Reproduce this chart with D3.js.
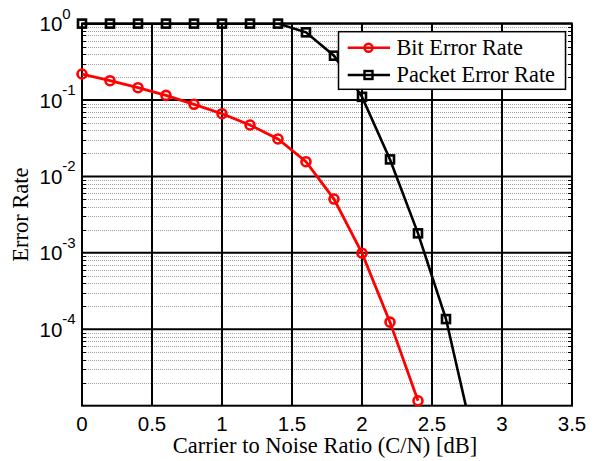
<!DOCTYPE html>
<html>
<head>
<meta charset="utf-8">
<script src="https://cdn.jsdelivr.net/npm/d3@7"></script>
<style>
  html, body { margin: 0; padding: 0; background: #fff; }
  svg { display: block; }
</style>
</head>
<body>
<svg id="chart" width="596" height="461"></svg>
<script>
// ---- data ----
const cnr = [0, 0.2, 0.4, 0.6, 0.8, 1.0, 1.2, 1.4, 1.6, 1.8, 2.0, 2.2, 2.4, 2.6, 2.8];
const berX = [0, 0.2, 0.4, 0.6, 0.8, 1.0, 1.2, 1.4, 1.6, 1.8, 2.0, 2.2, 2.4];
const berValues = [0.219, 0.179, 0.145, 0.115, 0.0879, 0.0662, 0.0471, 0.0309, 0.0156, 0.00506, 0.00099, 1.24e-4, 1.16e-5];
const perValues = [1, 1, 1, 1, 1, 1, 1, 1, 0.769, 0.38, 0.110, 0.0167, 0.0018, 1.36e-4, 3.4e-6];
const xTicks = [0, 0.5, 1, 1.5, 2, 2.5, 3, 3.5];
const xTickLabels = ["0", "0.5", "1", "1.5", "2", "2.5", "3", "3.5"];
const yTicks = [1, 1e-1, 1e-2, 1e-3, 1e-4];
const yTickExponents = ["0", "-1", "-2", "-3", "-4"];
const seriesNames = ["Bit Error Rate", "Packet Error Rate"];
const seriesColors = ["#ff0000", "#000000"];
const xLabel = "Carrier to Noise Ratio (C/N) [dB]";
const yLabel = "Error Rate";

// ---- layout ----
const L = 82, R = 572, T = 23.6, B = 405.7;
const svg = d3.select("#chart");
const x = d3.scaleLinear().domain([0, 3.5]).range([L, R]);
const y = d3.scaleLog().domain([1e-5, 1]).range([B, T]);
const sans = "'Liberation Sans', Arial, sans-serif";
const serif = "'Liberation Serif', 'Times New Roman', serif";

// clip
svg.append("defs").append("clipPath").attr("id", "plotclip")
  .append("rect").attr("x", L).attr("y", T).attr("width", R - L).attr("height", B - T);

// minor grid
const minorVals = [];
for (let e = -5; e < 0; e++) for (let m = 2; m <= 9; m++) minorVals.push(m * Math.pow(10, e));
const grid = svg.append("g");
grid.selectAll("line.minor").data(minorVals).join("line")
  .attr("class", "minor")
  .attr("x1", L).attr("x2", R)
  .attr("y1", d => Math.round(y(d)) + 0.5).attr("y2", d => Math.round(y(d)) + 0.5)
  .attr("stroke", "#a0a0a0").attr("stroke-width", 1).attr("stroke-dasharray", "1,1");

// minor ticks on left/right
grid.selectAll("line.mtl").data(minorVals).join("line")
  .attr("x1", L).attr("x2", L + 4)
  .attr("y1", d => Math.round(y(d)) + 0.5).attr("y2", d => Math.round(y(d)) + 0.5)
  .attr("stroke", "#000").attr("stroke-width", 1);
grid.selectAll("line.mtr").data(minorVals).join("line")
  .attr("x1", R - 4).attr("x2", R)
  .attr("y1", d => Math.round(y(d)) + 0.5).attr("y2", d => Math.round(y(d)) + 0.5)
  .attr("stroke", "#000").attr("stroke-width", 1);

// major grid
grid.selectAll("line.majy").data(yTicks).join("line")
  .attr("x1", L).attr("x2", R)
  .attr("y1", d => y(d)).attr("y2", d => y(d))
  .attr("stroke", "#000").attr("stroke-width", 2);
grid.selectAll("line.majx").data(xTicks).join("line")
  .attr("x1", d => x(d)).attr("x2", d => x(d))
  .attr("y1", T).attr("y2", B)
  .attr("stroke", "#000").attr("stroke-width", 2);

// axes box
svg.append("rect").attr("x", L).attr("y", T).attr("width", R - L).attr("height", B - T)
  .attr("fill", "none").attr("stroke", "#000").attr("stroke-width", 2);

// x tick labels
svg.append("g").selectAll("text").data(xTicks).join("text")
  .attr("x", d => x(d)).attr("y", B + 25)
  .attr("text-anchor", "middle")
  .attr("font-family", sans).attr("font-size", 20.5)
  .text((d, i) => xTickLabels[i]);

// y tick labels
const yl = svg.append("g").selectAll("g").data(yTicks).join("g");
yl.append("text")
  .attr("x", 39.5).attr("y", d => y(d) + 7.5)
  .attr("font-family", sans).attr("font-size", 20.5)
  .text("10")
  .append("tspan").attr("font-size", 15).attr("dy", -12.5)
  .text((d, i) => yTickExponents[i]);

// axis labels
svg.append("text").attr("x", 325).attr("y", 453)
  .attr("text-anchor", "middle").attr("font-family", serif).attr("font-size", 22.5)
  .text(xLabel);
svg.append("text")
  .attr("transform", `translate(28,${(T + B) / 2}) rotate(-90)`)
  .attr("text-anchor", "middle").attr("font-family", serif).attr("font-size", 22.5)
  .text(yLabel);

// series
const berData = berX.map((v, i) => [v, berValues[i]]);
const perData = cnr.map((v, i) => [v, perValues[i]]);
const line = d3.line().x(d => x(d[0])).y(d => y(d[1]));
const inDomain = d => d[1] >= 1e-5 && d[1] <= 1;

const plot = svg.append("g");
plot.append("path").datum(perData).attr("d", line)
  .attr("clip-path", "url(#plotclip)")
  .attr("fill", "none").attr("stroke", seriesColors[1]).attr("stroke-width", 2.6);
plot.append("path").datum(berData).attr("d", line)
  .attr("clip-path", "url(#plotclip)")
  .attr("fill", "none").attr("stroke", seriesColors[0]).attr("stroke-width", 2.8);

plot.selectAll("rect.per").data(perData.filter(inDomain)).join("rect")
  .attr("x", d => x(d[0]) - 4).attr("y", d => y(d[1]) - 4)
  .attr("width", 8).attr("height", 8)
  .attr("fill", "none").attr("stroke", seriesColors[1]).attr("stroke-width", 2.6);
plot.selectAll("circle.ber").data(berData.filter(inDomain)).join("circle")
  .attr("cx", d => x(d[0])).attr("cy", d => y(d[1])).attr("r", 4.5)
  .attr("fill", "none").attr("stroke", seriesColors[0]).attr("stroke-width", 2.6);

// legend
const lg = svg.append("g");
lg.append("rect").attr("x", 338.5).attr("y", 31.7).attr("width", 227).attr("height", 57.6)
  .attr("fill", "#fff").attr("stroke", "#000").attr("stroke-width", 1.5);
const rowsY = [47.7, 75];
seriesNames.forEach((name, i) => {
  const yy = rowsY[i];
  lg.append("line").attr("x1", 347.7).attr("x2", 390).attr("y1", yy).attr("y2", yy)
    .attr("stroke", seriesColors[i]).attr("stroke-width", 2.6);
  if (i === 0) {
    lg.append("circle").attr("cx", 368.5).attr("cy", yy).attr("r", 4)
      .attr("fill", "none").attr("stroke", seriesColors[i]).attr("stroke-width", 2.4);
  } else {
    lg.append("rect").attr("x", 364.5).attr("y", yy - 4).attr("width", 8).attr("height", 8)
      .attr("fill", "none").attr("stroke", seriesColors[i]).attr("stroke-width", 2.4);
  }
  lg.append("text").attr("x", 396.5).attr("y", yy + 6.8)
    .attr("font-family", serif).attr("font-size", 22.3)
    .text(name);
});
</script>
</body>
</html>
